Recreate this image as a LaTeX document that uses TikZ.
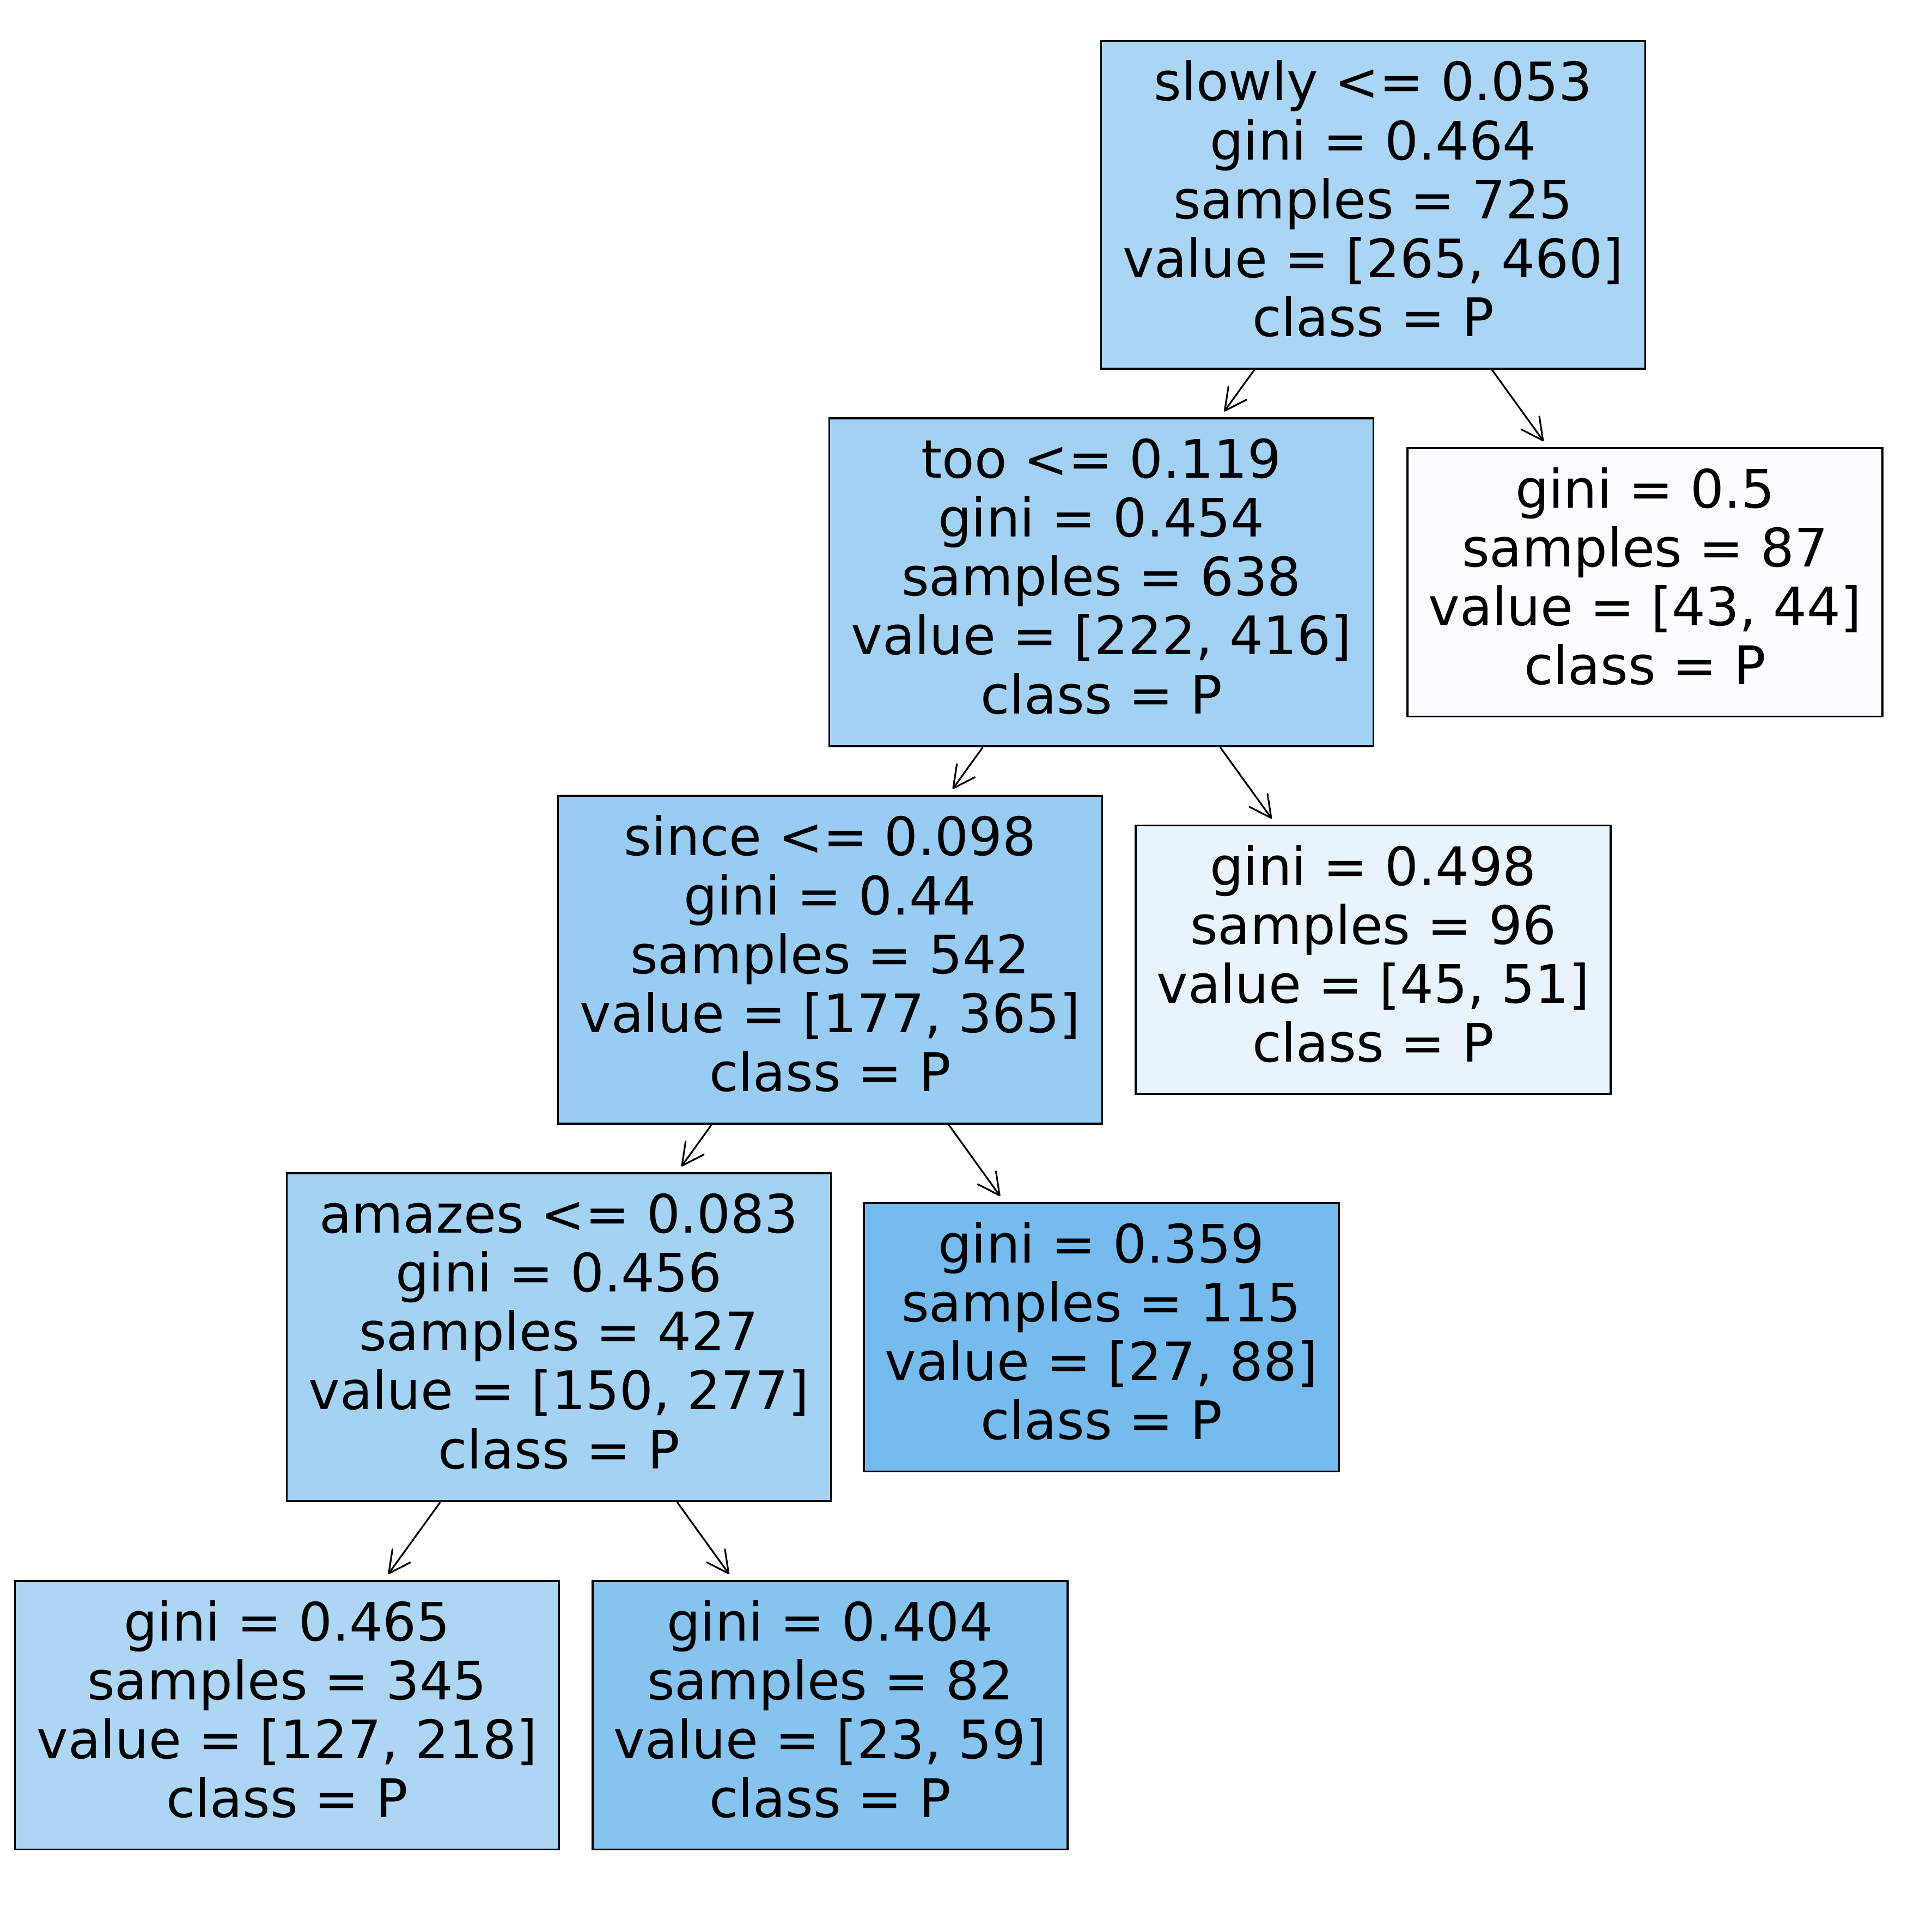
\documentclass[tikz,border=0pt]{standalone}
\usepackage{fontspec}
\setmainfont{DejaVu Sans}
\usetikzlibrary{%
  arrows.meta%
}
\definecolor{fillslowly}{RGB}{171,213,244}
\definecolor{filltoo}{RGB}{163,209,243}
\definecolor{fillsince}{RGB}{153,204,242}
\definecolor{fillamazes}{RGB}{164,210,243}
\definecolor{fillleafa}{RGB}{250,253,254}
\definecolor{fillleafb}{RGB}{232,243,252}
\definecolor{fillleafc}{RGB}{118,187,237}
\definecolor{fillleafd}{RGB}{172,214,244}
\definecolor{fillleafe}{RGB}{134,195,239}

\begin{document}
\begin{tikzpicture}[
  font=\fontsize{27.7}{30.8}\selectfont,
  split/.style={draw,line width=1.1pt,minimum width=9.99cm,minimum height=6.02cm,inner sep=0pt,align=center,text depth=0.23cm},
  leaf/.style={draw,line width=1.1pt,minimum width=8.72cm,minimum height=4.93cm,inner sep=0pt,align=center,text depth=0.23cm},
  edge/.style={line width=0.9pt,-{Straight Barb[length=0.4cm,width=0.41cm,round]},shorten >=0.13cm}
]
  \useasboundingbox (0,0) rectangle (35.47,-35.25);
  \node[split,fill=fillslowly] (slowly) at (25.21,-3.76) {slowly <= 0.053\\gini = 0.464\\samples = 725\\value = [265, 460]\\class = P};
  \node[split,fill=filltoo] (too) at (20.22,-10.69) {too <= 0.119\\gini = 0.454\\samples = 638\\value = [222, 416]\\class = P};
  \node[leaf,fill=fillleafa] (leafa) at (30.20,-10.69) {gini = 0.5\\samples = 87\\value = [43, 44]\\class = P};
  \node[split,fill=fillsince] (since) at (15.24,-17.62) {since <= 0.098\\gini = 0.44\\samples = 542\\value = [177, 365]\\class = P};
  \node[leaf,fill=fillleafb] (leafb) at (25.21,-17.62) {gini = 0.498\\samples = 96\\value = [45, 51]\\class = P};
  \node[split,fill=fillamazes] (amazes) at (10.26,-24.55) {amazes <= 0.083\\gini = 0.456\\samples = 427\\value = [150, 277]\\class = P};
  \node[leaf,fill=fillleafc] (leafc) at (20.22,-24.55) {gini = 0.359\\samples = 115\\value = [27, 88]\\class = P};
  \node[leaf,fill=fillleafd,minimum width=9.99cm] (leafd) at (5.27,-31.49) {gini = 0.465\\samples = 345\\value = [127, 218]\\class = P};
  \node[leaf,fill=fillleafe] (leafe) at (15.24,-31.49) {gini = 0.404\\samples = 82\\value = [23, 59]\\class = P};
  \draw[edge] (slowly) -- (too);
  \draw[edge] (slowly) -- (leafa);
  \draw[edge] (too) -- (since);
  \draw[edge] (too) -- (leafb);
  \draw[edge] (since) -- (amazes);
  \draw[edge] (since) -- (leafc);
  \draw[edge] (amazes) -- (leafd);
  \draw[edge] (amazes) -- (leafe);
\end{tikzpicture}
\end{document}
